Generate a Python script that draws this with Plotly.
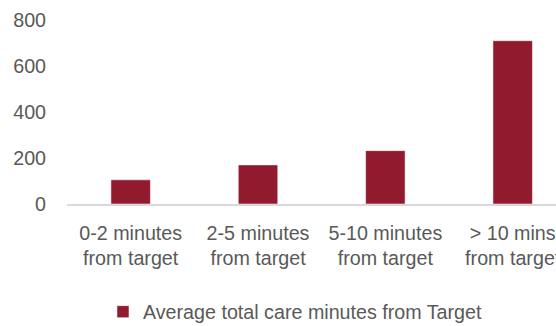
import plotly.graph_objects as go

# Chart data
categories = ["0-2 minutes<br>from target", "2-5 minutes<br>from target",
              "5-10 minutes<br>from target", "> 10 mins<br>from target"]
avg_care_minutes = [105, 170, 232, 710]
series_name = "Average total care minutes from Target"
y_ticks = [0, 200, 400, 600, 800]

BAR_COLOR = "#921A2E"
TEXT_COLOR = "#595959"
FONT = "Liberation Sans, Arial, sans-serif"
FONT_SIZE = 19.7

fig = go.Figure(
    go.Bar(
        x=list(range(len(categories))),
        y=avg_care_minutes,
        name=series_name,
        marker=dict(color=BAR_COLOR, line=dict(color="rgba(255,255,255,0.5)", width=1)),
        width=0.31,
        showlegend=True,
    )
)

fig.update_layout(
    width=556,
    height=326,
    margin=dict(l=67, r=0, t=20, b=122, autoexpand=False),
    paper_bgcolor="white",
    plot_bgcolor="white",
    font=dict(family=FONT, size=FONT_SIZE, color=TEXT_COLOR),
    showlegend=True,
    legend=dict(
        orientation="h",
        x=0.0736,
        xanchor="left",
        y=-0.48,
        yanchor="top",
        font=dict(family=FONT, size=FONT_SIZE, color=TEXT_COLOR),
        itemwidth=30,
    ),
    xaxis=dict(
        tickmode="array",
        tickvals=list(range(len(categories))),
        ticktext=categories,
        range=[-0.5, 3.34],
        showgrid=False,
        showline=True,
        linecolor="#d9d9d9",
        linewidth=2,
        ticks="outside",
        ticklen=10,
        tickcolor="rgba(0,0,0,0)",
        ticklabeloverflow="allow",
        zeroline=False,
        automargin=False,
    ),
    yaxis=dict(
        range=[0, 800],
        tickvals=y_ticks,
        showgrid=False,
        showline=False,
        zeroline=False,
        ticks="outside",
        ticklen=16,
        tickcolor="rgba(0,0,0,0)",
        automargin=False,
    ),
)

fig.write_html("out.html")
